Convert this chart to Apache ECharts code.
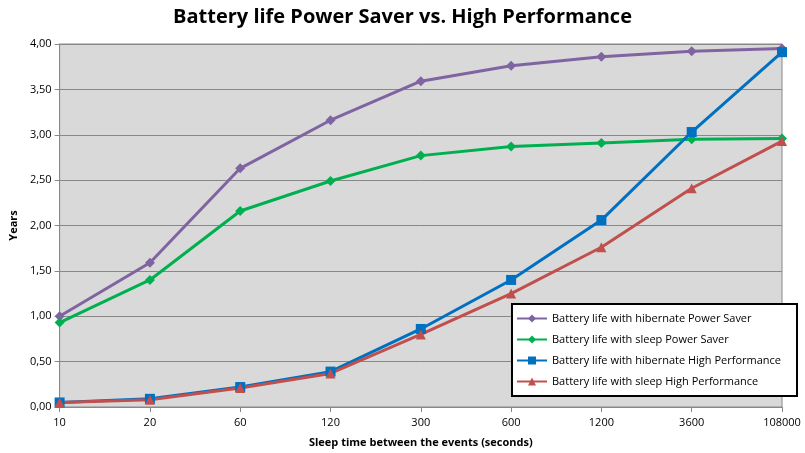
<!DOCTYPE html>
<html>
<head>
<meta charset="utf-8">
<script src="https://cdn.jsdelivr.net/npm/echarts@6/dist/echarts.min.js"></script>
<style>html,body{margin:0;padding:0;background:#fff}#chart{width:805px;height:453px}</style>
</head>
<body>
<div id="chart"></div>
<script>
const categories = ['10', '20', '60', '120', '300', '600', '1200', '3600', '108000']
const hibernatePowerSaver = [1.00, 1.59, 2.63, 3.16, 3.59, 3.76, 3.86, 3.92, 3.95]
const sleepPowerSaver = [0.93, 1.40, 2.16, 2.49, 2.77, 2.87, 2.91, 2.95, 2.96]
const hibernateHighPerf = [0.05, 0.09, 0.22, 0.39, 0.86, 1.40, 2.06, 3.03, 3.91]
const sleepHighPerf = [0.05, 0.08, 0.21, 0.37, 0.80, 1.25, 1.76, 2.41, 2.93]

const font = 'Open Sans, DejaVu Sans, sans-serif'
const mk = (name, data, color, symbol, size) => ({
  name, type: 'line', data, symbol, symbolSize: size,
  lineStyle: { color, width: 3 }, itemStyle: { color }
})

const chart = echarts.init(document.getElementById('chart'))
chart.setOption({
  animation: false,
  textStyle: { fontFamily: font },
  title: {
    text: 'Battery life Power Saver vs. High Performance',
    left: 'center', top: 2,
    textStyle: { fontSize: 20, fontWeight: 'bold', color: '#000', fontFamily: font }
  },
  grid: { left: 53, right: 23, top: 44, bottom: 46, backgroundColor: '#d9d9d9', show: true, borderColor: '#888', borderWidth: 1 },
  legend: {
    orient: 'vertical', right: 8, top: 304,
    backgroundColor: '#fff', borderColor: '#000', borderWidth: 2,
    padding: [9, 16, 9, 4], itemGap: 10, itemWidth: 30, itemHeight: 10,
    textStyle: { fontSize: 11, color: '#000' },
    data: ['Battery life with hibernate Power Saver', 'Battery life with sleep Power Saver',
      'Battery life with hibernate High Performance', 'Battery life with sleep High Performance']
  },
  xAxis: {
    type: 'category', data: categories, boundaryGap: false,
    name: 'Sleep time between the events (seconds)', nameLocation: 'middle', nameGap: 30,
    nameTextStyle: { fontWeight: 'bold', fontSize: 11, color: '#000' },
    axisLine: { lineStyle: { color: '#888' } },
    axisTick: { show: true, length: 5, lineStyle: { color: '#888' } },
    axisLabel: { color: '#000', fontSize: 11, margin: 10 }
  },
  yAxis: {
    type: 'value', min: 0, max: 4, interval: 0.5,
    name: 'Years', nameLocation: 'middle', nameGap: 40,
    nameTextStyle: { fontWeight: 'bold', fontSize: 11, color: '#000' },
    axisLine: { show: true, lineStyle: { color: '#888' } },
    axisTick: { show: true, length: 5, lineStyle: { color: '#888' } },
    splitLine: { lineStyle: { color: '#888' } },
    axisLabel: { color: '#000', fontSize: 11, formatter: v => v.toFixed(2).replace('.', ',') }
  },
  series: [
    mk('Battery life with hibernate Power Saver', hibernatePowerSaver, '#8064a2', 'diamond', 10),
    mk('Battery life with sleep Power Saver', sleepPowerSaver, '#00b050', 'diamond', 10),
    mk('Battery life with hibernate High Performance', hibernateHighPerf, '#0070c0', 'rect', 10),
    mk('Battery life with sleep High Performance', sleepHighPerf, '#c0504d', 'triangle', 10)
  ]
})
</script>
</body>
</html>
